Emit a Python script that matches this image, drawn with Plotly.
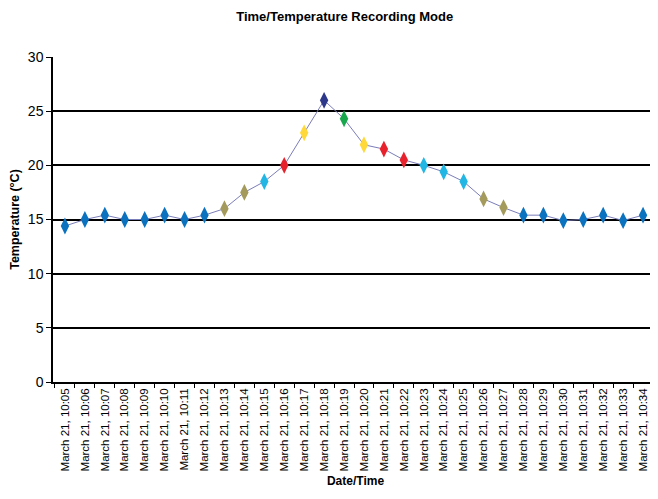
import plotly.graph_objects as go

times = ["March 21, 10:%02d" % m for m in range(5, 35)]
temps = [14.4, 15.0, 15.4, 15.0, 15.0, 15.4, 15.0, 15.4, 16.0, 17.5,
         18.5, 20.0, 23.0, 26.0, 24.3, 21.9, 21.5, 20.5, 20.0, 19.4,
         18.5, 16.9, 16.1, 15.4, 15.4, 14.9, 15.0, 15.4, 14.9, 15.4]

BLUE = "#0A72BE"
OLIVE = "#A39A5C"
CYAN = "#22B6E4"
RED = "#E8222C"
YELLOW = "#FFD83A"
NAVY = "#2E388A"
GREEN = "#18A84C"
marker_colors = [BLUE] * 8 + [OLIVE, OLIVE, CYAN, RED, YELLOW, NAVY, GREEN,
                              YELLOW, RED, RED, CYAN, CYAN, CYAN, OLIVE, OLIVE] + [BLUE] * 7

y_ticks = [0, 5, 10, 15, 20, 25, 30]

fig = go.Figure()
fig.add_trace(go.Scatter(
    x=times, y=temps, mode="lines+markers",
    line=dict(color="#7B7DB8", width=1),
    marker=dict(symbol="diamond-tall", size=12, color=marker_colors,
                line=dict(width=0)),
    showlegend=False,
    cliponaxis=False,
))

# page body adds an 8px offset, so the figure is sized 650x491
fig.update_layout(
    width=650, height=491,
    margin=dict(l=45, r=0, t=49, b=117, autoexpand=False),
    paper_bgcolor="white", plot_bgcolor="white",
    font=dict(family="Liberation Sans, Arial, sans-serif", color="black"),
    title=dict(text="<b>Time/Temperature Recording Mode</b>",
               x=0.518, xanchor="center", y=0.982, yanchor="middle",
               font=dict(size=13, color="black")),
)
fig.update_xaxes(
    type="category", range=[-0.6, 29.75], automargin=False,
    tickangle=-90, tickfont=dict(size=11.5),
    ticks="outside", tickson="boundaries", ticklen=4, tickcolor="black",
    showline=True, linecolor="black", linewidth=1.5, showgrid=False,
    title=dict(text="<b>Date/Time</b>", font=dict(size=12), standoff=6),
)
fig.update_yaxes(
    range=[0, 30], tickvals=y_ticks, tickfont=dict(size=14), automargin=False,
    ticks="outside", ticklen=5, tickcolor="black",
    showline=True, linecolor="black", linewidth=1.5,
    showgrid=True, gridcolor="black", gridwidth=1.5, zeroline=False,
    title=dict(text="<b>Temperature (°C)</b>", font=dict(size=12.5), standoff=10),
)

fig.write_html("out.html")
